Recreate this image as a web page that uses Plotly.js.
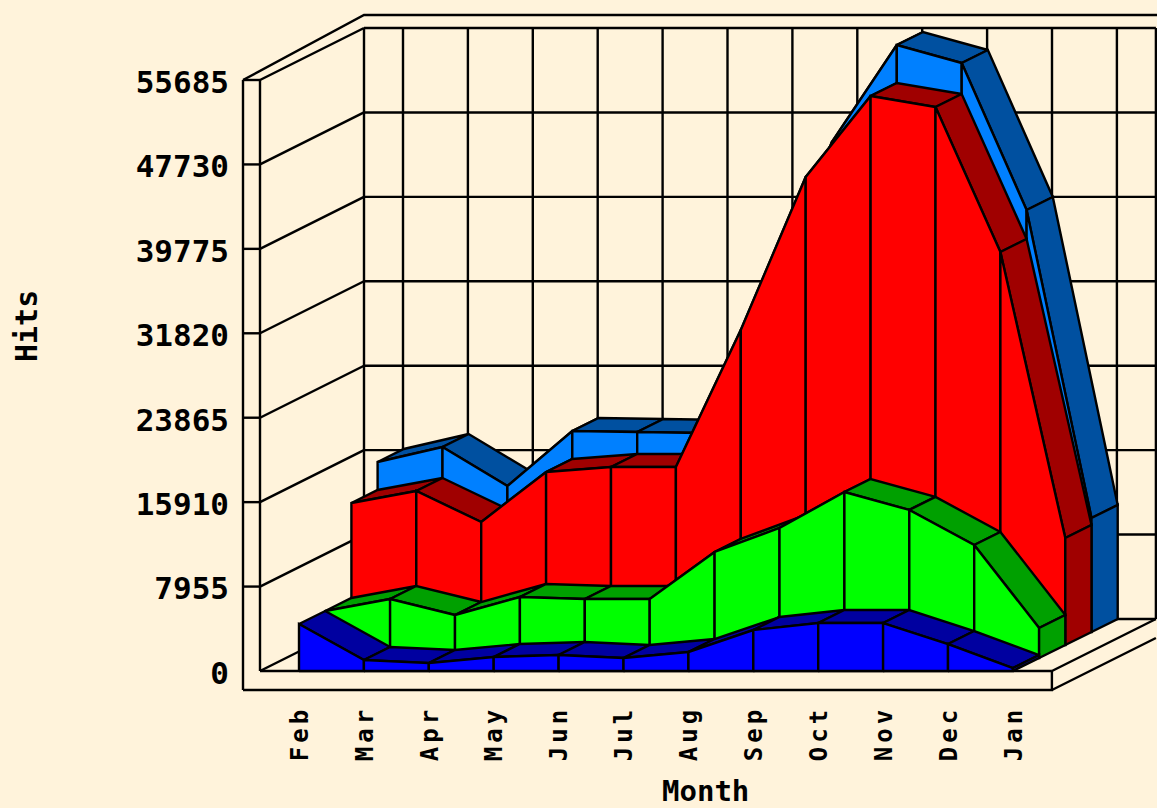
<!DOCTYPE html>
<html>
<head>
<meta charset="utf-8">
<script src="https://cdn.plot.ly/plotly-3.0.1.min.js"></script>
<style>
html,body{margin:0;padding:0;background:#fff3db;overflow:hidden}
#chart{width:1157px;height:808px}
.xtick text{letter-spacing:4px}
</style>
</head>
<body>
<div id="chart"></div>
<script>
// ---- data ----
const months = ["Feb","Mar","Apr","May","Jun","Jul","Aug","Sep","Oct","Nov","Dec","Jan"];
const yTicks = [0,7955,15910,23865,31820,39775,47730,55685];
const visits = [4430,1040,750,1320,1510,1230,1790,3860,4520,4520,2540,280];      // blue, front
const pages  = [4430,5560,4050,5750,5560,5560,9990,12250,15640,13950,10650,2830]; // green
const files  = [13380,14510,11590,16300,16770,16770,29680,44100,51730,50690,37030,10080]; // red
const hits   = [16020,17430,13760,18940,18840,18750,31280,46170,55310,53610,39760,10740]; // light blue, back
const frontColors = ["#0000ff","#00ff00","#ff0000","#0080ff"];
const sideColors  = ["#0000a0","#00a000","#a00000","#0050a0"];
const seriesByDepth = [visits,pages,files,hits];

// ---- oblique projection, in axis units ----
const PXX = 64.9, PXY = 591/55685;        // pixels per month, pixels per hit
const layerDX = 26.2/PXX, layerDY = 13/PXY;  // one series' depth
const wallDX = 104/PXX,  wallDY = 52/PXY;    // depth of the floor
const wallL = -39/PXX, wallR = 11 + 39/PXX;  // floor ends
const stripL = -56/PXX, stripB = -19/PXY, topV = yTicks[yTicks.length-1];

const traces = [];
function poly(xs,ys,fill,w){
  traces.push({type:'scatter',mode:'lines',x:xs,y:ys,showlegend:false,hoverinfo:'skip',
    fill: fill ? 'toself':'none', fillcolor: fill||undefined,
    line:{color:'#000',width:w||2.4}});
}
// back wall
for (const v of yTicks) poly([wallL+wallDX,wallR+wallDX],[v+wallDY,v+wallDY]);
months.forEach((m,i)=>poly([i+wallDX,i+wallDX],[wallDY,topV+wallDY]));
poly([wallL+wallDX,wallL+wallDX],[wallDY,topV+wallDY]);
poly([wallR+wallDX,wallR+wallDX],[wallDY,topV+wallDY]);
// left wall and its front strip
for (const v of yTicks) poly([wallL,wallL+wallDX],[v,v+wallDY]);
for (const v of yTicks.slice(1)) poly([stripL,wallL],[v,v]);
poly([wallL,wallL],[0,topV]);
poly([stripL,stripL],[stripB,topV]);
poly([stripL,wallL+wallDX,14],[topV,topV+wallDY+layerDY,topV+wallDY+layerDY]);
// floor
poly([wallL,wallR],[0,0]);
poly([stripL,wallR,wallR],[stripB,stripB,0]);
poly([wallR,wallR+wallDX],[0,wallDY]);
poly([wallR,wallR+wallDX],[stripB,stripB+wallDY]);

// series, back to front
for (let d=3; d>=0; d--){
  const s = seriesByDepth[d];
  const ox = d*layerDX, oy = d*layerDY;
  const front = frontColors[d], side = sideColors[d];
  for (let i=0; i<s.length-1; i++){
    const x0=i+ox, x1=i+1+ox, y0=s[i]+oy, y1=s[i+1]+oy;
    poly([x0,x1,x1+layerDX,x0+layerDX,x0],[y0,y1,y1+layerDY,y0+layerDY,y0],side);
    poly([x0,x0,x1,x1,x0],[oy,y0,y1,oy,oy],front);
  }
  const n=s.length-1, xe=n+ox, ye=s[n]+oy;
  poly([xe,xe,xe+layerDX,xe+layerDX,xe],[oy,ye,ye+layerDY,oy+layerDY,oy],side);
}

const L=230, B=700, T=0;
const layout = {
  width:1157,height:808,
  paper_bgcolor:'#fff3db',plot_bgcolor:'#fff3db',showlegend:false,
  margin:{l:L,r:0,t:T,b:808-B,pad:0},
  font:{family:'"DejaVu Sans Mono",monospace',color:'#000'},
  xaxis:{range:[(L-299)/PXX,(1157-299)/PXX],showgrid:false,zeroline:false,showline:false,
    tickmode:'array',tickvals:months.map((m,i)=>i+1/PXX),ticktext:months,tickangle:-90,ticks:'',
    tickfont:{size:24,weight:700,family:'"DejaVu Sans Mono",monospace'},automargin:false,fixedrange:true},
  yaxis:{range:[(671-B)/PXY,(671-T)/PXY],showgrid:false,zeroline:false,showline:false,
    tickmode:'array',tickvals:yTicks,ticktext:yTicks.map(String),ticks:'',ticklabelshift:2,
    tickfont:{size:31,weight:700,family:'"DejaVu Sans Mono",monospace'},automargin:false,fixedrange:true},
  annotations:[
    {text:'Month',xref:'paper',yref:'paper',x:(705-L)/(1157-L),y:-(791-B)/B,xanchor:'center',yanchor:'middle',showarrow:false,
     font:{size:29,weight:700}},
    {text:'Hits',xref:'paper',yref:'paper',x:(26-L)/(1157-L),y:(B-326)/B,xanchor:'center',yanchor:'middle',showarrow:false,textangle:-90,
     font:{size:30,weight:700}}
  ]
};
Plotly.newPlot('chart',traces,layout,{staticPlot:true,displayModeBar:false});
</script>
</body>
</html>
